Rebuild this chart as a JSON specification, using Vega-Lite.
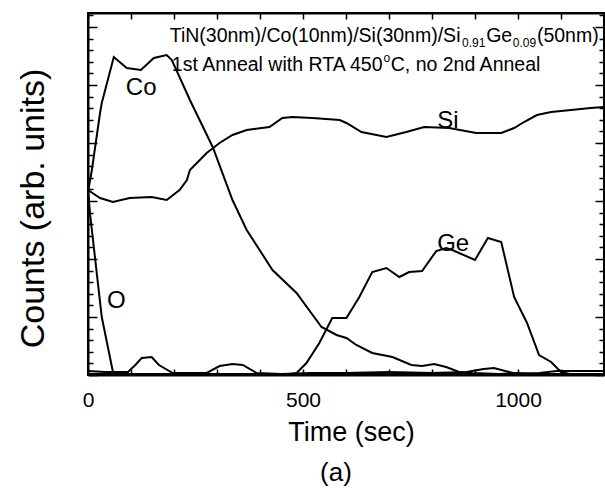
{
  "$schema": "https://vega.github.io/schema/vega-lite/v6.json",
  "width": 516,
  "height": 362,
  "autosize": {"type": "none"},
  "padding": {"left": 88, "top": 13, "right": 1, "bottom": 113},
  "background": "white",
  "title": {"text": "(a)", "orient": "bottom", "fontSize": 26, "fontWeight": "normal", "font": "Liberation Sans", "color": "black", "offset": 15, "dx": -10},
  "config": {
    "view": {"stroke": "black", "strokeWidth": 2},
    "font": "Liberation Sans",
    "axis": {"domainColor": "black", "domainWidth": 2, "tickColor": "black", "tickWidth": 1.5, "labelColor": "black", "titleColor": "black", "labelFont": "Liberation Sans", "titleFont": "Liberation Sans", "titleFontWeight": "normal", "grid": false}
  },
  "datasets": {
    "profile": [
      {"element": "Co", "time": 0, "counts": 183}, {"element": "Co", "time": 9, "counts": 205}, {"element": "Co", "time": 28, "counts": 262}, {"element": "Co", "time": 32, "counts": 272}, {"element": "Co", "time": 60, "counts": 318}, {"element": "Co", "time": 90, "counts": 307}, {"element": "Co", "time": 123, "counts": 305}, {"element": "Co", "time": 153, "counts": 317}, {"element": "Co", "time": 183, "counts": 320}, {"element": "Co", "time": 195, "counts": 315}, {"element": "Co", "time": 237, "counts": 275}, {"element": "Co", "time": 290, "counts": 228}, {"element": "Co", "time": 336, "counts": 175}, {"element": "Co", "time": 369, "counts": 145}, {"element": "Co", "time": 429, "counts": 105}, {"element": "Co", "time": 485, "counts": 82}, {"element": "Co", "time": 543, "counts": 48}, {"element": "Co", "time": 578, "counts": 40}, {"element": "Co", "time": 601, "counts": 37}, {"element": "Co", "time": 624, "counts": 30}, {"element": "Co", "time": 661, "counts": 22}, {"element": "Co", "time": 708, "counts": 18}, {"element": "Co", "time": 752, "counts": 10}, {"element": "Co", "time": 777, "counts": 9}, {"element": "Co", "time": 805, "counts": 11}, {"element": "Co", "time": 833, "counts": 8}, {"element": "Co", "time": 863, "counts": 3}, {"element": "Co", "time": 893, "counts": 2}, {"element": "Co", "time": 956, "counts": 1}, {"element": "Co", "time": 1000, "counts": 2}, {"element": "Co", "time": 1049, "counts": 1}, {"element": "Co", "time": 1200, "counts": 1},
      {"element": "Si", "time": 0, "counts": 185}, {"element": "Si", "time": 28, "counts": 177}, {"element": "Si", "time": 58, "counts": 173}, {"element": "Si", "time": 97, "counts": 177}, {"element": "Si", "time": 148, "counts": 178}, {"element": "Si", "time": 183, "counts": 175}, {"element": "Si", "time": 213, "counts": 185}, {"element": "Si", "time": 230, "counts": 195}, {"element": "Si", "time": 237, "counts": 205}, {"element": "Si", "time": 276, "counts": 222}, {"element": "Si", "time": 306, "counts": 232}, {"element": "Si", "time": 336, "counts": 240}, {"element": "Si", "time": 369, "counts": 245}, {"element": "Si", "time": 422, "counts": 248}, {"element": "Si", "time": 452, "counts": 257}, {"element": "Si", "time": 476, "counts": 258}, {"element": "Si", "time": 522, "counts": 257}, {"element": "Si", "time": 585, "counts": 255}, {"element": "Si", "time": 601, "counts": 252}, {"element": "Si", "time": 636, "counts": 243}, {"element": "Si", "time": 694, "counts": 238}, {"element": "Si", "time": 740, "counts": 243}, {"element": "Si", "time": 782, "counts": 248}, {"element": "Si", "time": 840, "counts": 247}, {"element": "Si", "time": 903, "counts": 242}, {"element": "Si", "time": 961, "counts": 242}, {"element": "Si", "time": 991, "counts": 247}, {"element": "Si", "time": 1014, "counts": 253}, {"element": "Si", "time": 1044, "counts": 260}, {"element": "Si", "time": 1077, "counts": 263}, {"element": "Si", "time": 1123, "counts": 265}, {"element": "Si", "time": 1169, "counts": 267}, {"element": "Si", "time": 1200, "counts": 268},
      {"element": "O", "time": 0, "counts": 186}, {"element": "O", "time": 5, "counts": 160}, {"element": "O", "time": 32, "counts": 58}, {"element": "O", "time": 58, "counts": 3}, {"element": "O", "time": 65, "counts": 1}, {"element": "O", "time": 1200, "counts": 1},
      {"element": "Ge", "time": 0, "counts": 1}, {"element": "Ge", "time": 470, "counts": 1}, {"element": "Ge", "time": 485, "counts": 2}, {"element": "Ge", "time": 508, "counts": 12}, {"element": "Ge", "time": 538, "counts": 32}, {"element": "Ge", "time": 568, "counts": 57}, {"element": "Ge", "time": 601, "counts": 57}, {"element": "Ge", "time": 631, "counts": 78}, {"element": "Ge", "time": 661, "counts": 103}, {"element": "Ge", "time": 694, "counts": 107}, {"element": "Ge", "time": 724, "counts": 98}, {"element": "Ge", "time": 747, "counts": 103}, {"element": "Ge", "time": 777, "counts": 104}, {"element": "Ge", "time": 810, "counts": 124}, {"element": "Ge", "time": 833, "counts": 127}, {"element": "Ge", "time": 847, "counts": 125}, {"element": "Ge", "time": 900, "counts": 115}, {"element": "Ge", "time": 930, "counts": 137}, {"element": "Ge", "time": 961, "counts": 133}, {"element": "Ge", "time": 991, "counts": 78}, {"element": "Ge", "time": 1021, "counts": 52}, {"element": "Ge", "time": 1049, "counts": 20}, {"element": "Ge", "time": 1077, "counts": 13}, {"element": "Ge", "time": 1100, "counts": 3}, {"element": "Ge", "time": 1120, "counts": 1}, {"element": "Ge", "time": 1200, "counts": 1},
      {"element": "other", "time": 0, "counts": 4}, {"element": "other", "time": 40, "counts": 3}, {"element": "other", "time": 93, "counts": 3}, {"element": "other", "time": 110, "counts": 10}, {"element": "other", "time": 125, "counts": 17}, {"element": "other", "time": 148, "counts": 18}, {"element": "other", "time": 165, "counts": 10}, {"element": "other", "time": 197, "counts": 2}, {"element": "other", "time": 276, "counts": 2}, {"element": "other", "time": 306, "counts": 9}, {"element": "other", "time": 336, "counts": 11}, {"element": "other", "time": 360, "counts": 10}, {"element": "other", "time": 392, "counts": 2}, {"element": "other", "time": 450, "counts": 1}, {"element": "other", "time": 520, "counts": 2}, {"element": "other", "time": 600, "counts": 2}, {"element": "other", "time": 700, "counts": 3}, {"element": "other", "time": 800, "counts": 2}, {"element": "other", "time": 880, "counts": 3}, {"element": "other", "time": 920, "counts": 6}, {"element": "other", "time": 944, "counts": 7}, {"element": "other", "time": 970, "counts": 4}, {"element": "other", "time": 1000, "counts": 1}, {"element": "other", "time": 1050, "counts": 2}, {"element": "other", "time": 1090, "counts": 4}, {"element": "other", "time": 1200, "counts": 4}
    ],
    "labels": [
      {"label": "Co", "time": 88, "counts": 280},
      {"label": "Si", "time": 812, "counts": 247},
      {"label": "Ge", "time": 812, "counts": 124},
      {"label": "O", "time": 44, "counts": 67}
    ],
    "notes": [
      {"text": "TiN(30nm)/Co(10nm)/Si(30nm)/Si", "time": 190, "counts": 333},
      {"text": "Ge", "time": 926, "counts": 333},
      {"text": "(50nm)", "time": 1044, "counts": 333},
      {"text": "1st Anneal with RTA 450", "time": 195, "counts": 304},
      {"text": "C, no 2nd Anneal", "time": 704, "counts": 304}
    ],
    "subs": [
      {"text": "0.91", "time": 870, "counts": 333},
      {"text": "0.09", "time": 988, "counts": 333}
    ],
    "sups": [
      {"text": "o", "time": 687, "counts": 304}
    ]
  },
  "layer": [
    {
      "data": {"name": "profile"},
      "mark": {"type": "line", "color": "black", "strokeWidth": 2},
      "encoding": {
        "x": {"field": "time", "type": "quantitative", "scale": {"domain": [0, 1200], "nice": false, "zero": false},
          "axis": {"orient": "bottom", "values": [0, 100, 200, 300, 400, 500, 600, 700, 800, 900, 1000, 1100, 1200], "tickSize": -6, "labelExpr": "datum.value % 500 === 0 ? format(datum.value, 'd') : ''", "labelFontSize": 21, "labelPadding": 20, "labelFlush": false, "labelOverlap": false, "title": "Time (sec)", "titleFontSize": 27, "titlePadding": 9, "titleX": 263}},
        "y": {"field": "counts", "type": "quantitative", "scale": {"domain": [0, 362], "nice": false, "zero": false},
          "axis": {"orient": "left", "values": [0, 11.6, 23.2, 34.8, 46.4, 58, 69.6, 81.2, 92.8, 104.4, 116, 127.6, 139.2, 150.8, 162.4, 174, 185.6, 197.2, 208.8, 220.4, 232, 243.6, 255.2, 266.8, 278.4, 290, 301.6, 313.2, 324.8, 336.4, 348, 359.6], "labels": false, "tickSize": {"condition": {"test": "round(datum.value * 10) % 580 === 0", "value": -9}, "value": -5}, "title": "Counts (arb. units)", "titleFontSize": 34, "titlePadding": 37, "titleY": 195}},
        "detail": {"field": "element", "type": "nominal"}
      }
    },
    {
      "data": {"name": "labels"},
      "mark": {"type": "text", "align": "left", "baseline": "alphabetic", "fontSize": 24, "color": "black", "font": "Liberation Sans"},
      "encoding": {
        "x": {"field": "time", "type": "quantitative", "axis": {"orient": "top", "values": [0, 100, 200, 300, 400, 500, 600, 700, 800, 900, 1000, 1100, 1200], "labels": false, "tickSize": -6, "title": null}},
        "y": {"field": "counts", "type": "quantitative", "axis": {"orient": "right", "values": [0, 11.6, 23.2, 34.8, 46.4, 58, 69.6, 81.2, 92.8, 104.4, 116, 127.6, 139.2, 150.8, 162.4, 174, 185.6, 197.2, 208.8, 220.4, 232, 243.6, 255.2, 266.8, 278.4, 290, 301.6, 313.2, 324.8, 336.4, 348, 359.6], "labels": false, "tickSize": {"condition": {"test": "round(datum.value * 10) % 580 === 0", "value": -9}, "value": -5}, "title": null}},
        "text": {"field": "label"}
      }
    },
    {
      "data": {"name": "notes"},
      "mark": {"type": "text", "align": "left", "baseline": "alphabetic", "fontSize": 19.5, "color": "black", "font": "Liberation Sans"},
      "encoding": {
        "x": {"field": "time", "type": "quantitative", "axis": null},
        "y": {"field": "counts", "type": "quantitative", "axis": null},
        "text": {"field": "text"}
      }
    },
    {
      "data": {"name": "subs"},
      "mark": {"type": "text", "align": "left", "baseline": "alphabetic", "fontSize": 12, "dy": 5, "color": "black", "font": "Liberation Sans"},
      "encoding": {
        "x": {"field": "time", "type": "quantitative", "axis": null},
        "y": {"field": "counts", "type": "quantitative", "axis": null},
        "text": {"field": "text"}
      }
    },
    {
      "data": {"name": "sups"},
      "mark": {"type": "text", "align": "left", "baseline": "alphabetic", "fontSize": 12, "dy": -9, "color": "black", "font": "Liberation Sans"},
      "encoding": {
        "x": {"field": "time", "type": "quantitative", "axis": null},
        "y": {"field": "counts", "type": "quantitative", "axis": null},
        "text": {"field": "text"}
      }
    }
  ],
  "resolve": {"axis": {"x": "independent", "y": "independent"}}
}
